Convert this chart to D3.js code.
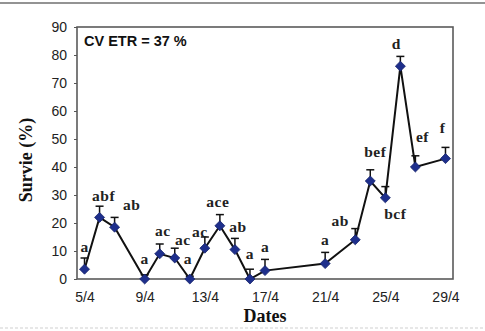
<!DOCTYPE html>
<html>
<head>
<meta charset="utf-8">
<script src="https://cdn.jsdelivr.net/npm/d3@7"></script>
<style>
  html, body { margin: 0; padding: 0; background: #fff; }
  svg { display: block; }
</style>
</head>
<body>
<svg id="chart" width="485" height="331"></svg>
<script>
// ---- data ----
const days = [5, 6, 7, 9, 10, 11, 12, 13, 14, 15, 16, 17, 21, 23, 24, 25, 26, 27, 29];
const survie = [3.5, 22, 18.5, 0, 9, 7.5, 0, 11, 19, 10.5, 0, 3, 5.5, 14, 35, 29, 76, 40, 43];
const errUp = [4, 4, 3.5, 1.5, 3.5, 3.5, 1, 4, 4, 4, 3.5, 4, 4, 4, 4, 4, 3.5, 4, 4];
const letters = ["a", "abf", "ab", "a", "ac", "ac", "a", "ac", "ace", "ab", "a", "a", "a", "ab", "bef", "bcf", "d", "ef", "f"];
const xTickDays = [5, 9, 13, 17, 21, 25, 29];
const xTickLabels = ["5/4", "9/4", "13/4", "17/4", "21/4", "25/4", "29/4"];
const yTicks = [0, 10, 20, 30, 40, 50, 60, 70, 80, 90];
const annotation = "CV ETR = 37 %";
const xTitle = "Dates";
const yTitle = "Survie (%)";

// label placement (layout only)
const labelDx = [0, 4, 17, 0, 3, 8, -2, -5, -2, 3, 0, 0, 0, -15, 5, 10, -4, 7, -3];
const labelDy = [-23, -22, -23, -20, -23, -18, -20, -17, -24, -23, -25, -24, -24, -19, -29, 16, -23, -30, -31];

// ---- layout ----
const svg = d3.select("#chart");
const L = 77, R = 453, T = 27, B = 279;
const x = d3.scaleLinear().domain([4.5, 29.5]).range([L, R]);
const y = d3.scaleLinear().domain([0, 90]).range([B, T]);

const serif = "'Liberation Serif', 'Times New Roman', serif";
const sans = "'Liberation Sans', Arial, sans-serif";

// scan artifacts: top rule and faint bottom line
svg.append("line").attr("x1", 0).attr("x2", 485).attr("y1", 3).attr("y2", 3)
  .attr("stroke", "#6f6f6f").attr("stroke-width", 1.6);
svg.append("line").attr("x1", 0).attr("x2", 485).attr("y1", 328).attr("y2", 328)
  .attr("stroke", "#cfcfcf").attr("stroke-width", 1).attr("stroke-dasharray", "3,2");

// plot frame
svg.append("rect").attr("x", L).attr("y", T).attr("width", R - L).attr("height", B - T)
  .attr("fill", "none").attr("stroke", "#5a5a5a").attr("stroke-width", 1.6);

// y axis
const yAxis = d3.axisLeft(y).tickValues(yTicks).tickSize(3).tickPadding(7).tickFormat(d3.format("d"));
const gy = svg.append("g").attr("transform", `translate(${L},0)`).call(yAxis);
gy.select(".domain").remove();
gy.selectAll(".tick line").attr("stroke", "#555");
gy.selectAll(".tick text").attr("font-family", sans).attr("font-size", 14).attr("fill", "#222");

// x axis
const xAxis = d3.axisBottom(x).tickValues(xTickDays).tickSize(0).tickPadding(13)
  .tickFormat((d, i) => xTickLabels[i]);
const gx = svg.append("g").attr("transform", `translate(0,${B})`).call(xAxis);
gx.select(".domain").remove();
gx.selectAll(".tick text").attr("font-family", sans).attr("font-size", 14).attr("fill", "#222");

// axis titles
svg.append("text").attr("x", 265).attr("y", 322).attr("text-anchor", "middle")
  .attr("font-family", serif).attr("font-weight", "bold").attr("font-size", 18).attr("fill", "#111")
  .text(xTitle);
svg.append("text").attr("transform", "translate(32,160) rotate(-90)").attr("text-anchor", "middle")
  .attr("font-family", serif).attr("font-weight", "bold").attr("font-size", 18).attr("fill", "#111")
  .text(yTitle);

// annotation
svg.append("text").attr("x", 84).attr("y", 46)
  .attr("font-family", sans).attr("font-weight", "bold").attr("font-size", 14.5).attr("fill", "#111")
  .text(annotation);

const pts = days.map((d, i) => ({ d, v: survie[i], e: errUp[i], lab: letters[i], dx: labelDx[i], dy: labelDy[i] }));

// error bars (upper)
const eb = svg.append("g").attr("stroke", "#111").attr("stroke-width", 1.5);
pts.forEach(p => {
  eb.append("line").attr("x1", x(p.d)).attr("x2", x(p.d)).attr("y1", y(p.v)).attr("y2", y(p.v + p.e));
  eb.append("line").attr("x1", x(p.d) - 4).attr("x2", x(p.d) + 4).attr("y1", y(p.v + p.e)).attr("y2", y(p.v + p.e));
});

// line
svg.append("path").datum(pts)
  .attr("d", d3.line().x(p => x(p.d)).y(p => y(p.v)))
  .attr("fill", "none").attr("stroke", "#111").attr("stroke-width", 2);

// markers
svg.append("g").selectAll("path").data(pts).join("path")
  .attr("transform", p => `translate(${x(p.d)},${y(p.v)})`)
  .attr("d", d3.symbol().type(d3.symbolDiamond2).size(64))
  .attr("fill", "#1e2f8c").attr("stroke", "#16236b").attr("stroke-width", 0.8);

// letters
svg.append("g").selectAll("text").data(pts).join("text")
  .attr("x", p => x(p.d) + p.dx).attr("y", p => y(p.v) + p.dy)
  .attr("dy", "0.35em").attr("text-anchor", "middle")
  .attr("font-family", serif).attr("font-weight", "bold").attr("font-size", 15.5)
  .attr("letter-spacing", 0.5).attr("fill", "#222")
  .text(p => p.lab);
</script>
</body>
</html>
